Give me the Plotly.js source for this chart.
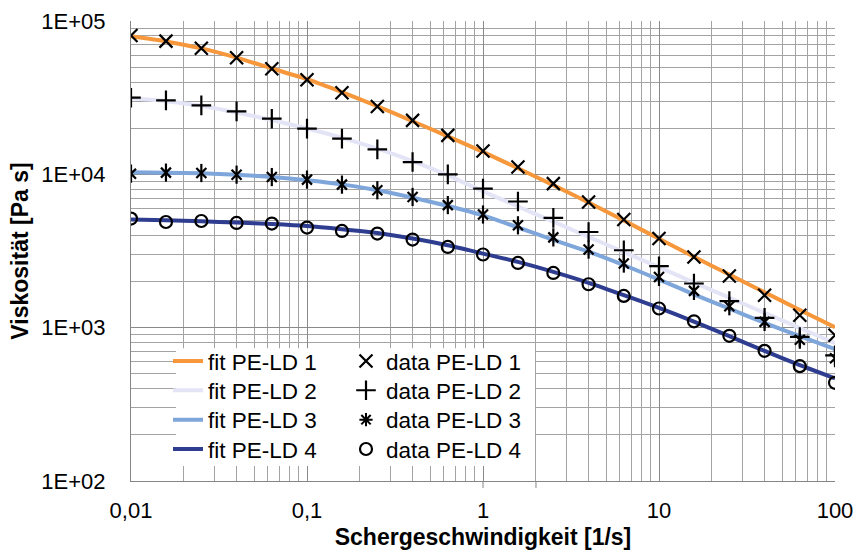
<!DOCTYPE html>
<html>
<head>
<meta charset="utf-8">
<script src="https://cdn.plot.ly/plotly-3.0.1.min.js"></script>
<style>
  html, body { margin: 0; padding: 0; background: #ffffff; }
  #chart { width: 858px; height: 550px; }
</style>
</head>
<body>
<div id="chart"></div>
<script>
// Shear rate [1/s]
const shearRate = [0.01, 0.0158, 0.0251, 0.0398, 0.0631, 0.1, 0.158, 0.251, 0.398, 0.631,
                   1, 1.58, 2.51, 3.98, 6.31, 10, 15.8, 25.1, 39.8, 63.1, 100];

// Measured viscosity [Pa s]
const data1 = [80450, 73900, 66500, 57550, 48800, 41400, 34050, 27730, 22480, 17950,
               14190, 11160, 8700, 6600, 5070, 3810, 2890, 2175, 1629, 1205, 893];
const data2 = [31600, 30340, 28150, 25730, 23060, 19860, 17090, 14550, 12030, 10000,
               8070, 6650, 5200, 4207, 3198, 2516, 1941, 1490, 1160, 870, 660];
const data3 = [10100, 10260, 10200, 9950, 9600, 9240, 8570, 7870, 7120, 6300,
               5470, 4650, 3880, 3230, 2620, 2143, 1737, 1380, 1091, 835, 632];
const data4 = [5145, 4887, 4963, 4818, 4775, 4497, 4272, 4110, 3755, 3360,
               3000, 2643, 2275, 1920, 1611, 1334, 1100, 885, 706, 561, 437];

// Fitted viscosity curves [Pa s]
const fit1 = [79500, 73600, 66300, 57700, 49000, 41800, 34400, 27800, 22200, 17700,
              14000, 10950, 8500, 6550, 5000, 3800, 2900, 2220, 1700, 1305, 1005];
const fit2 = [31300, 30000, 28000, 25300, 22600, 19900, 17300, 14700, 12200, 9850,
              7750, 6170, 4910, 3910, 3110, 2480, 1970, 1570, 1250, 995, 792];
const fit3 = [10300, 10250, 10150, 9950, 9600, 9150, 8600, 7880, 7050, 6220,
              5405, 4500, 3740, 3130, 2560, 2060, 1650, 1330, 1075, 880, 725];
const fit4 = [5070, 5010, 4940, 4850, 4740, 4600, 4385, 4147, 3811, 3447,
              3041, 2684, 2310, 1960, 1630, 1345, 1095, 880, 705, 570, 467];

const fitNames  = ["fit PE-LD 1", "fit PE-LD 2", "fit PE-LD 3", "fit PE-LD 4"];
const dataNames = ["data PE-LD 1", "data PE-LD 2", "data PE-LD 3", "data PE-LD 4"];

const xTickVals  = [0.01, 0.1, 1, 10, 100];
const xTickText  = ["0,01", "0,1", "1", "10", "100"];
const yTickVals  = [100, 1000, 10000, 100000];
const yTickText  = ["1E+02", "1E+03", "1E+04", "1E+05"];

const fitColors = ["#F5973A", "#E4E4F7", "#7EA6DA", "#2E3D8F"];

function minorVals(lo, hi) {
  const v = [];
  for (let e = lo; e < hi; e++) for (let k = 2; k <= 9; k++) v.push(k * Math.pow(10, e));
  return v;
}

const FONT = "Liberation Sans, Arial, sans-serif";
const fits = [fit1, fit2, fit3, fit4];
const traces = [];

// legend ids: fits -> legend..legend4 ; data -> legend5..legend8
const fitLegendIds  = ["legend", "legend2", "legend3", "legend4"];
const dataLegendIds = ["legend5", "legend6", "legend7", "legend8"];

fits.forEach((f, i) => {
  traces.push({
    x: shearRate, y: f, type: "scatter", mode: "lines", name: fitNames[i],
    line: { color: fitColors[i], width: 4, shape: "spline", smoothing: 0.6 },
    legend: fitLegendIds[i], hoverinfo: "skip"
  });
});

function mk(symbol, size, w) {
  return { symbol: symbol, size: size, color: "#000000", line: { color: "#000000", width: w || 2 } };
}
// data 1: x
traces.push({ x: shearRate, y: data1, type: "scatter", mode: "markers", name: dataNames[0],
  legend: dataLegendIds[0], marker: mk("x-thin-open", 13, 2.2) });
// data 2: +
traces.push({ x: shearRate, y: data2, type: "scatter", mode: "markers", name: dataNames[1],
  legend: dataLegendIds[1], marker: mk("cross-thin-open", 14, 2.2) });
// data 3: six-armed star drawn as x + vertical bar
traces.push({ x: shearRate, y: data3, type: "scatter", mode: "markers", name: dataNames[2],
  legend: dataLegendIds[2], showlegend: false, marker: mk("x-thin-open", 10, 2.2) });
traces.push({ x: shearRate, y: data3, type: "scatter", mode: "markers", name: dataNames[2],
  legend: dataLegendIds[2], showlegend: false, marker: mk("line-ns-open", 13, 2.2) });
traces.push({ x: [null], y: [null], type: "scatter", mode: "markers", name: dataNames[2],
  legend: dataLegendIds[2], marker: mk("asterisk-open", 11, 2) });
// data 4: o
traces.push({ x: shearRate, y: data4, type: "scatter", mode: "markers", name: dataNames[3],
  legend: dataLegendIds[3], marker: mk("circle-open", 12, 2.2) });

const plotL = 131, plotR = 835, plotT = 20.5, plotB = 481;
const W = 858, H = 550;
const pw = plotR - plotL, ph = plotB - plotT;
function px2x(p) { return (p - plotL) / pw; }
function px2y(p) { return (plotB - p) / ph; }

const AXC = "#858585";
const axisCommon = {
  type: "log",
  showline: true, linecolor: AXC, linewidth: 1,
  ticks: "outside", tickcolor: "rgba(0,0,0,0)", tickwidth: 1,
  showgrid: true, gridcolor: "#8a8a8a", gridwidth: 1,
  zeroline: false, tickmode: "array",
  tickfont: { family: FONT, size: 22, color: "#000000" },
  mirror: false
};

// visible major tick marks (7 px, outside)
const tickShapes = [];
xTickVals.forEach(v => tickShapes.push({
  type: "line", xref: "x", yref: "paper", layer: "above",
  x0: Math.log10(v), x1: Math.log10(v), y0: 0, y1: -7 / ph,
  line: { color: AXC, width: 1 }
}));
yTickVals.forEach(v => tickShapes.push({
  type: "line", xref: "paper", yref: "y", layer: "above",
  x0: 0, x1: -8 / pw, y0: Math.log10(v), y1: Math.log10(v),
  line: { color: AXC, width: 1 }
}));

const layout = {
  width: W, height: H,
  margin: { l: plotL, r: W - plotR, t: plotT, b: H - plotB },
  paper_bgcolor: "#ffffff", plot_bgcolor: "#ffffff",
  showlegend: true,
  xaxis: Object.assign({}, axisCommon, {
    range: [-2, 2], tickvals: xTickVals, ticktext: xTickText,
    ticklen: 10,
    minor: { tickmode: "array", tickvals: minorVals(-2, 2), showgrid: true,
             gridcolor: "#a3a3a3", gridwidth: 1, ticks: "" },
    title: { text: "Schergeschwindigkeit [1/s]", standoff: 8,
             font: { family: FONT, size: 23, color: "#000000", weight: "bold" } }
  }),
  yaxis: Object.assign({}, axisCommon, {
    range: [2, 5], tickvals: yTickVals, ticktext: yTickText,
    ticklen: 20,
    minor: { tickmode: "array", tickvals: minorVals(2, 5), showgrid: true,
             gridcolor: "#a3a3a3", gridwidth: 1, ticks: "" },
    title: { text: "Viskosität [Pa s]", standoff: 6,
             font: { family: FONT, size: 23, color: "#000000", weight: "bold" } }
  }),
  shapes: [{
    type: "rect", xref: "paper", yref: "paper", layer: "above",
    x0: px2x(176), x1: px2x(535), y0: px2y(466), y1: px2y(348),
    fillcolor: "#ffffff", line: { width: 0 }
  }].concat(tickShapes)
};

// one legend per entry, placed on the reference's two-column grid
const rowCenters = [362.7, 392, 421.5, 450.8];
function legendAt(xpx, rowC) {
  return {
    x: px2x(xpx), y: px2y(rowC - 23), xanchor: "left", yanchor: "top",
    bgcolor: "rgba(0,0,0,0)", borderwidth: 0,
    font: { family: FONT, size: 22.5, color: "#000000" },
    itemwidth: 30, tracegroupgap: 0
  };
}
fitLegendIds.forEach((id, i) => { layout[id] = legendAt(168, rowCenters[i]); });
dataLegendIds.forEach((id, i) => { layout[id] = legendAt(346, rowCenters[i]); });

Plotly.newPlot("chart", traces, layout, { displayModeBar: false, staticPlot: true });
</script>
</body>
</html>
